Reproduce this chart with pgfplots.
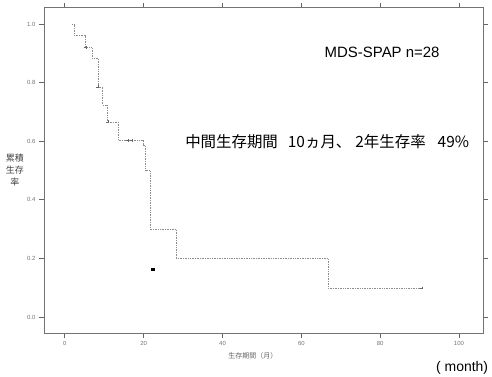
\documentclass[border=0pt]{standalone}
\usepackage{pgfplots}
\pgfplotsset{compat=1.18}
\usepackage{fontspec}
\setmainfont{Liberation Sans}
\newfontfamily\jp{Noto Sans CJK JP}
\begin{document}
\begin{tikzpicture}
\begin{axis}[
  scale only axis, width=439bp, height=325bp,
  xmin=-5.3, xmax=106.1, ymin=-0.0546, ymax=1.0546,
  xtick={0,20,40,60,80,100}, ytick={0,0.2,0.4,0.6,0.8,1.0},
  yticklabel style={/pgf/number format/fixed, /pgf/number format/fixed zerofill, /pgf/number format/precision=1},
  tick align=outside, major tick length=5bp,
  tick style={black!60, line width=0.8pt},
  axis line style={black!55, line width=1pt},
  ticklabel style={font=\fontsize{6}{7}\selectfont, text=black!55},
  /pgf/number format/assume math mode=true,
  clip=false,
]
\addplot[const plot, densely dotted, black!45, line width=0.7pt] coordinates {
(1.8,1.0) (2.5,0.960) (5.3,0.920) (6.9,0.884) (8.4,0.785) (9.6,0.724)
(10.9,0.666) (13.5,0.604) (19.8,0.587) (20.3,0.500) (21.6,0.300)
(28.2,0.200) (66.8,0.099) (90.6,0.099)
};
\addplot[only marks, mark=+, mark size=1.5pt, black!60] coordinates {
(5.3,0.920) (8.4,0.785) (10.9,0.666) (16.0,0.604) (17.0,0.604) (90.6,0.099)
};
\addplot[only marks, mark=square*, mark size=1.2pt, black] coordinates {(22.3,0.164)};
\node at (axis cs:80.5,0.904) {\fontsize{15}{18}\selectfont MDS-SPAP n=28};
\node[anchor=west, inner sep=0pt] at (axis cs:30.5,0.597) {\jp\fontsize{15.5}{18}\selectfont 中間生存期間\hspace{10bp}10ヵ月、\hspace{4bp}2年生存率\hspace{12bp}49\%};
\node at (axis cs:100.8,-0.174) {\fontsize{14}{16}\selectfont ( month)};
\node[text=black!60, font={\jp\fontsize{7}{8}\selectfont}] at (axis cs:47.7,-0.133) {生存期間（月）};
\node[align=center, text=black!75, font={\jp\fontsize{9}{12}\selectfont}] at (axis cs:-12.7,0.50) {累積\\生存\\率};
\end{axis}
\pgfresetboundingbox
\path[use as bounding box] (current axis.south west) ++(-44bp,-44bp) rectangle ++(492bp,377bp);
\end{tikzpicture}
\end{document}
